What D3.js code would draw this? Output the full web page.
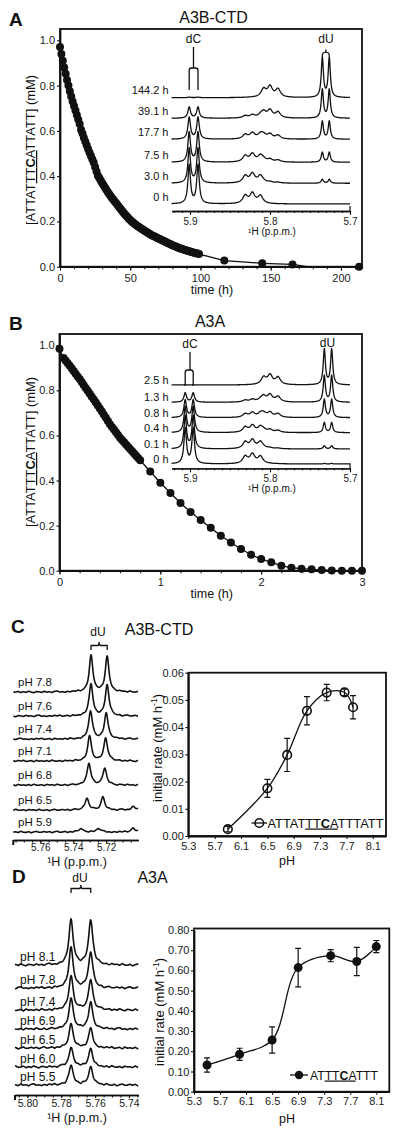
<!DOCTYPE html>
<html><head><meta charset="utf-8">
<script src="https://cdn.jsdelivr.net/npm/d3@7"></script>
<style>
html,body{margin:0;padding:0;background:#fff}
svg{display:block}
</style></head>
<body><svg id="c" width="400" height="1135"></svg>
<script>
// ================= DATA =================
// Panel A : A3B-CTD time course
const timeA = [0,1,2,3,4,5,6,7,8,9,10,11,12,13,14,15,16,17,18,19,20,21,22,23,24,25,26,27,28,29,
30,31,32,33,34,35,36,37,38,39,40,41,42,43,44,45,46,47,48,49,50,51,52,53,54,55,56,57,58,59,
60,61,62,63,64,65,66,67,68,69,70,71,72,73,74,75,76,77,78,79,80,81,82,83,84,85,86,87,88,89,
90,91,92,93,94,95,96,97,98,99,117,144,165.5,213];
const concA = [0.970,0.940,0.910,0.880,0.852,0.825,0.800,0.775,0.752,0.730,
0.710,0.690,0.670,0.650,0.630,0.605,0.588,0.570,0.553,0.537,
0.520,0.505,0.490,0.475,0.460,0.440,0.420,0.402,0.392,0.381,
0.370,0.360,0.350,0.340,0.330,0.321,0.312,0.304,0.296,0.288,
0.280,0.272,0.264,0.256,0.248,0.240,0.233,0.226,0.219,0.212,
0.206,0.200,0.195,0.190,0.185,0.180,0.176,0.172,0.168,0.164,
0.160,0.156,0.152,0.148,0.144,0.140,0.137,0.134,0.131,0.128,
0.125,0.122,0.119,0.116,0.113,0.110,0.107,0.104,0.101,0.098,
0.095,0.092,0.090,0.087,0.085,0.082,0.080,0.078,0.076,0.074,
0.072,0.070,0.068,0.066,0.064,0.063,0.061,0.059,0.058,0.056,
0.027,0.015,0.010,0.000];
const fitEndA = [176, 0];          // where the fitted line meets zero
const timeTicksA = [0,50,100,150,200];
const concTicks = [0,0.2,0.4,0.6,0.8,1.0];

// Panel B : A3A time course
const timeB = [0,0.04,0.06,0.08,0.10,0.12,0.14,0.16,0.18,0.20,0.22,0.24,0.26,0.28,0.30,0.32,0.34,0.36,0.38,0.40,
0.42,0.44,0.46,0.48,0.50,0.52,0.54,0.56,0.58,0.60,0.62,0.64,0.66,0.68,0.70,0.72,0.74,0.76,0.78,0.80,
0.9,1.0,1.1,1.2,1.3,1.4,1.5,1.6,1.7,1.8,1.9,2.0,2.1,2.2,2.3,2.4,2.5,2.6,2.7,2.8,2.9,3.0];
const concB = [0.985,0.944,0.933,0.921,0.910,0.898,0.886,0.874,0.862,0.850,0.837,0.824,0.811,0.798,0.785,0.772,0.759,0.746,0.733,0.720,
0.706,0.692,0.678,0.664,0.650,0.638,0.626,0.614,0.602,0.590,0.580,0.570,0.560,0.550,0.540,0.530,0.520,0.510,0.500,0.490,
0.440,0.390,0.345,0.300,0.260,0.225,0.190,0.155,0.125,0.096,0.071,0.052,0.037,0.022,0.013,0.009,0.006,0.003,0.001,0,0,0];
const timeTicksB = [0,1,2,3];

// NMR insets (A, B)
const specLabelsA = ["144.2 h","39.1 h","17.7 h","7.5 h","3.0 h","0 h"];
const substrateFracA = [0.015,0.28,0.55,0.75,0.87,0.97];
const productFracA  = [1.00,0.72,0.45,0.25,0.10,0.00];
const specLabelsB = ["2.5 h","1.3 h","0.8 h","0.4 h","0.1 h","0 h"];
const substrateFracB = [0.006,0.26,0.49,0.72,0.91,0.985];
const productFracB  = [0.99,0.74,0.51,0.28,0.09,0.015];
const dCppmA = [5.901,5.890], dUppmA = [5.7346,5.7259];
const dCppmB = [5.906,5.896], dUppmB = [5.7321,5.7229];
const tripletSubPpm  = [5.831,5.822,5.812];
const tripletProdPpm = [5.808,5.800,5.790];
const tripletRel = [0.20,0.26,0.20];
const ppmTicksAB = [5.9,5.8,5.7];

// Panel C spectra (dU doublet vs pH)
const phLabelsC = ["pH 7.8","pH 7.6","pH 7.4","pH 7.1","pH 6.8","pH 6.5","pH 5.9"];
const dUppmC = [[5.7292,5.7194],[5.7292,5.7194],[5.7295,5.7200],[5.7301,5.7203],[5.7305,5.7209],[5.7317,5.7220],[5.7354,5.7247]];
const dUhtC  = [[1.00,0.97],[0.89,0.86],[0.78,0.72],[0.69,0.64],[0.61,0.47],[0.33,0.36],[0.11,0.11]];
const extraHtC = [0,0,0,0,0,0.10,0.11];
const extraPpmC = 5.7035;
const ppmTicksC = [5.76,5.74,5.72];
// Panel C rate vs pH
const pHC   = [5.9,6.5,6.8,7.1,7.4,7.67,7.8];
const rateC = [0.0025,0.0175,0.0298,0.046,0.0527,0.0528,0.0473];
const errC  = [0.001,0.0033,0.0061,0.0052,0.003,0.0012,0.0043];
const pHTicks = [5.3,5.7,6.1,6.5,6.9,7.3,7.7,8.1];
const rateTicksC = [0,0.01,0.02,0.03,0.04,0.05,0.06];

// Panel D spectra
const phLabelsD = ["pH 8.1","pH 7.8","pH 7.4","pH 6.9","pH 6.5","pH 6.0","pH 5.5"];
const dUppmD = [5.7742,5.7626];
const dUhtD  = [[1.00,1.00],[0.89,0.80],[0.76,0.67],[0.67,0.58],[0.53,0.42],[0.44,0.40],[0.44,0.40]];
const ppmTicksD = [5.80,5.78,5.76,5.74];
// Panel D rate vs pH
const pHD   = [5.5,6.0,6.5,6.9,7.4,7.8,8.1];
const rateD = [0.132,0.185,0.256,0.614,0.673,0.644,0.718];
const errD  = [0.035,0.03,0.065,0.095,0.03,0.07,0.03];
const rateTicksD = [0,0.1,0.2,0.3,0.4,0.5,0.6,0.7,0.8];

// baseline noise of the pH-series spectra (hand-typed)
const noise = [0.3,-0.5,0.8,-0.2,-0.9,0.4,0.1,-0.6,0.7,-0.3,0.5,-0.8,0.2,0.9,-0.4,-0.1,0.6,-0.7,0.3,-0.2,
0.8,-0.5,-0.9,0.4,0.0,0.7,-0.3,0.5,-0.6,0.2,-0.8,0.6,0.1,-0.4,0.9,-0.7,0.3,-0.1,0.5,-0.5,
0.7,-0.9,0.2,0.4,-0.3,0.8,-0.6,0.1,-0.2,0.6,-0.8,0.3,0.5,-0.4,0.9,-0.1,-0.7,0.4,0.2,-0.5];

// ================= DRAWING =================
const FONT = '"Liberation Sans", Arial, Helvetica, sans-serif';
const INK = "#111";
const svg = d3.select("#c");

function txt(x,y,s,fs,opt={}){
  const t = svg.append("text").attr("x",x).attr("y",y).text(s)
    .attr("font-family",FONT).attr("font-size",fs).attr("fill","#111");
  if(opt.anchor) t.attr("text-anchor",opt.anchor);
  if(opt.bold) t.attr("font-weight","bold");
  return t;
}
function frame(x0,y0,x1,y1){
  svg.append("rect").attr("x",x0).attr("y",y0).attr("width",x1-x0).attr("height",y1-y0)
    .attr("fill","none").attr("stroke",INK).attr("stroke-width",1.8);
}
function styleAxis(sel,fs,dw){
  sel.select(".domain").attr("stroke",INK).attr("stroke-width",dw||1.8);
  sel.selectAll(".tick line").attr("stroke",INK).attr("stroke-width",1.1);
  sel.selectAll("text").attr("font-size",fs).attr("font-family",FONT).attr("fill","#1a1a1a");
}
function seqText(x,y,parts,fs,rot,len){
  const t = svg.append("text").attr("font-family",FONT).attr("font-size",fs).attr("fill","#111");
  if(rot) t.attr("transform",`translate(${x},${y}) rotate(-90)`).attr("text-anchor","middle");
  else t.attr("x",x).attr("y",y);
  parts.forEach(p=>{
    const s=t.append("tspan").text(p[0]);
    if(p[1]) s.attr("text-decoration","underline");
    if(p[2]) s.attr("font-weight","bold");
  });
  if(len) t.attr("textLength",len).attr("lengthAdjust","spacingAndGlyphs");
  return t;
}
function rateLabel(x,cy){
  const t = svg.append("text").attr("transform",`translate(${x},${cy}) rotate(-90)`)
    .attr("text-anchor","middle").attr("font-family",FONT).attr("font-size",13).attr("fill","#111");
  t.append("tspan").text("initial rate (mM h");
  t.append("tspan").attr("dy",-5).attr("font-size",8.5).text("-1");
  t.append("tspan").attr("dy",5).text(")");
}

// ---- time-course panels ----
function timeCourse(opt){
  const x = d3.scaleLinear().domain(opt.xd).range([opt.x0,opt.x1]);
  const y = d3.scaleLinear().domain([0,1.05]).range([opt.y1,opt.y0]);
  svg.append("g").attr("transform",`translate(0,${opt.y1})`)
    .call(d3.axisBottom(x).tickValues(opt.minor).tickSize(2.5).tickFormat("").tickSizeOuter(0))
    .call(s=>styleAxis(s,10));
  svg.append("g").attr("transform",`translate(0,${opt.y1})`)
    .call(d3.axisBottom(x).tickValues(opt.xticks).tickSize(4).tickPadding(3.5).tickFormat(opt.fmt).tickSizeOuter(0))
    .call(s=>styleAxis(s,11));
  svg.append("g").attr("transform",`translate(${opt.x0},0)`)
    .call(d3.axisLeft(y).tickValues(concTicks).tickSize(3).tickPadding(2).tickFormat(d3.format(".1f")).tickSizeOuter(0))
    .call(s=>styleAxis(s,11));
  frame(opt.x0,opt.y0,opt.x1,opt.y1);
  const pts = opt.t.map((t,i)=>[t,opt.c[i]]);
  svg.append("path").datum(opt.linePts).attr("fill","none").attr("stroke",INK).attr("stroke-width",1.3)
    .attr("d",d3.line().x(d=>x(d[0])).y(d=>y(d[1])));
  svg.append("g").selectAll("circle").data(pts).join("circle")
    .attr("cx",d=>x(d[0])).attr("cy",d=>y(d[1])).attr("r",4).attr("fill",INK);
  txt((opt.x0+opt.x1)/2+1, opt.y1+27, "time (h)", 12.5, {anchor:"middle"});
  return {x,y};
}

// ---- generic spectrum trace ----
function trace(xs, xL, xR, baseY, peaks, scalePx, nAmp, nOff, sw){
  const pts=[];
  for(let px=xL; px<=xR+0.01; px+=0.4){
    const p = xs.invert(px);
    let h=0;
    peaks.forEach(k=>{const d=(p-k.ppm)/k.w; h+=k.a/(1+d*d);});
    let n=0;
    if(nAmp){
      const f=px/2.6+nOff, i=Math.floor(f), r=f-i, N=noise.length;
      const a=noise[((i%N)+N)%N], b=noise[(((i+1)%N)+N)%N];
      n=(a*(1-r)+b*r)*nAmp;
    }
    pts.push([px, baseY - h*scalePx + n]);
  }
  svg.append("path").attr("d",d3.line()(pts)).attr("fill","none")
    .attr("stroke",INK).attr("stroke-width",sw).attr("stroke-linejoin","round");
}

function inset(opt){
  const xs = d3.scaleLinear().domain([5.923,5.70]).range([171.6,350]);
  const minor = d3.range(5.70,5.9231,0.01);
  svg.append("g").attr("transform",`translate(0,${opt.axisY})`)
    .call(d3.axisBottom(xs).tickValues(minor).tickSize(2).tickFormat("").tickSizeOuter(0))
    .call(s=>styleAxis(s,9,1.3));
  svg.append("g").attr("transform",`translate(0,${opt.axisY})`)
    .call(d3.axisBottom(xs).tickValues(ppmTicksAB).tickSize(4).tickPadding(2.5).tickFormat(d3.format(".1f")).tickSizeOuter(0))
    .call(s=>styleAxis(s,10,1.3));
  svg.append("line").attr("x1",xs(5.7)).attr("x2",xs(5.7)).attr("y1",opt.axisY-5).attr("y2",opt.axisY)
    .attr("stroke",INK).attr("stroke-width",1.2);
  txt(272, opt.axisY+23.5, "¹H (p.p.m.)", 10, {anchor:"middle"});
  opt.labels.forEach((lab,i)=>{
    const s=opt.sub[i], p=opt.prod[i];
    const peaks=[];
    opt.dC.forEach(v=>peaks.push({ppm:v,a:s,w:0.0019}));
    opt.dU.forEach(v=>peaks.push({ppm:v,a:p,w:0.0016}));
    tripletSubPpm.forEach((v,j)=>peaks.push({ppm:v,a:s*tripletRel[j],w:0.0037}));
    tripletProdPpm.forEach((v,j)=>peaks.push({ppm:v,a:p*tripletRel[j],w:0.0037}));
    trace(xs,171.6,350,opt.base[i],peaks,opt.scale,0,0,1.3);
    txt(168.5, opt.base[i]+opt.labOff, lab, 11, {anchor:"end"});
  });
  return xs;
}

// ================= PANEL A =================
txt(9,26,"A",19,{bold:true});
txt(213.5,23,"A3B-CTD",16,{anchor:"middle"});
const linePtsA = timeA.slice(0,timeA.length-1).map((t,i)=>[t,concA[i]]).concat([fitEndA]);
timeCourse({xd:[0,215],x0:60,x1:362,y0:29,y1:266.7,t:timeA,c:concA,linePts:linePtsA,
  xticks:timeTicksA,minor:d3.range(0,215,10),fmt:d3.format("d")});
seqText(35,150,[["[ATTAT"],["TT",1],["C",1,1],["A",1],["TTATT] (mM)"]],12.5,true,150);
const xsA = inset({axisY:211,labels:specLabelsA,sub:substrateFracA,prod:productFracA,
  dC:dCppmA,dU:dUppmA,base:[97.7,118.3,139.3,162.3,183.3,204],scale:40,labOff:-3.5});
txt(193.5,43,"dC",12,{anchor:"middle"});
svg.append("path").attr("d",`M193.5,47 V68 M${xsA(dCppmA[0])},90 V70.5 Q${xsA(dCppmA[0])},68 ${xsA(dCppmA[0])+2.5},68 H${xsA(dCppmA[1])-2.5} Q${xsA(dCppmA[1])},68 ${xsA(dCppmA[1])},70.5 V90`)
  .attr("fill","none").attr("stroke",INK).attr("stroke-width",1.3);
txt(326,43,"dU",12,{anchor:"middle"});
{const a=xsA(dUppmA[0]),b=xsA(dUppmA[1]),m=(a+b)/2;
svg.append("path").attr("d",`M${a},56 Q${a},52.5 ${a+2},52.5 H${m-1} Q${m},52.5 ${m},49.5 Q${m},52.5 ${m+1},52.5 H${b-2} Q${b},52.5 ${b},56`)
  .attr("fill","none").attr("stroke",INK).attr("stroke-width",1.2);}

// ================= PANEL B =================
txt(9,330,"B",19,{bold:true});
txt(210,327,"A3A",16,{anchor:"middle"});
const linePtsB = timeB.map((t,i)=>[t,concB[i]]);
timeCourse({xd:[0,3],x0:59.5,x1:362,y0:334,y1:570.7,t:timeB,c:concB,linePts:linePtsB,
  xticks:timeTicksB,minor:d3.range(0,3.01,0.2),fmt:d3.format("d")});
seqText(35,452,[["[ATTAT"],["TT",1],["C",1,1],["A",1],["TTATT] (mM)"]],12.5,true,150);
const xsB = inset({axisY:468.3,labels:specLabelsB,sub:substrateFracB,prod:productFracB,
  dC:dCppmB,dU:dUppmB,base:[385,402.3,417.7,432.7,449,464],scale:36,labOff:-1});
txt(190,348,"dC",12,{anchor:"middle"});
svg.append("path").attr("d",`M190,352 V370 M${xsB(dCppmB[0])},386 V372.5 Q${xsB(dCppmB[0])},370 ${xsB(dCppmB[0])+2.5},370 H${xsB(dCppmB[1])-2.5} Q${xsB(dCppmB[1])},370 ${xsB(dCppmB[1])},372.5 V386`)
  .attr("fill","none").attr("stroke",INK).attr("stroke-width",1.3);
txt(327.5,347,"dU",12,{anchor:"middle"});

// ================= PANEL C =================
txt(11,633,"C",19,{bold:true});
txt(159,635,"A3B-CTD",16,{anchor:"middle"});
{
  const xs = d3.scaleLinear().domain([5.7764,5.7005]).range([13.3,138.3]);
  const axisY=840;
  svg.append("g").attr("transform",`translate(0,${axisY})`)
    .call(d3.axisBottom(xs).tickValues(d3.range(5.705,5.7765,0.005)).tickSize(2.5).tickFormat("").tickSizeOuter(0))
    .call(s=>styleAxis(s,9,1.6));
  svg.append("g").attr("transform",`translate(0,${axisY})`)
    .call(d3.axisBottom(xs).tickValues(ppmTicksC).tickSize(3).tickPadding(0.5).tickFormat(d3.format(".2f")).tickSizeOuter(0))
    .call(s=>styleAxis(s,10,1.6));
  svg.append("line").attr("x1",13.3).attr("x2",13.3).attr("y1",axisY).attr("y2",axisY+5).attr("stroke",INK).attr("stroke-width",2);
  txt(77,866,"¹H (p.p.m.)",12.5,{anchor:"middle"});
  const base=[692,716,739,761,785,810,832];
  phLabelsC.forEach((lab,i)=>{
    const peaks=[{ppm:dUppmC[i][0],a:dUhtC[i][0],w:0.00135},{ppm:dUppmC[i][1],a:dUhtC[i][1],w:0.00135}];
    if(extraHtC[i]) peaks.push({ppm:extraPpmC,a:extraHtC[i],w:0.0015});
    trace(xs,13.3,138.3,base[i],peaks,36,0.9,i*7,1.6);
    txt(18,base[i]-6.5,lab,11.5);
  });
  txt(98,636,"dU",12,{anchor:"middle"});
  const a=xs(dUppmC[0][0]), b=xs(dUppmC[0][1]), m=(a+b)/2;
  svg.append("path").attr("d",`M${a},650 V645.5 H${m-1.5} Q${m},645.5 ${m},642 Q${m},645.5 ${m+1.5},645.5 H${b} V650`)
    .attr("fill","none").attr("stroke",INK).attr("stroke-width",1.3);

  const x = d3.scaleLinear().domain([5.3,8.3]).range([188.3,386]);
  const y = d3.scaleLinear().domain([0,0.06]).range([836,672.7]);
  svg.append("g").attr("transform",`translate(0,836)`)
    .call(d3.axisBottom(x).tickValues(pHTicks).tickSize(3).tickPadding(3).tickFormat(d3.format(".1f")).tickSizeOuter(0))
    .call(s=>styleAxis(s,11));
  svg.append("g").attr("transform",`translate(188.3,0)`)
    .call(d3.axisLeft(y).tickValues(rateTicksC).tickSize(3).tickPadding(1.5).tickFormat(d3.format(".2f")).tickSizeOuter(0))
    .call(s=>styleAxis(s,11));
  frame(188.3,672.7,386,836);
  txt(287,865,"pH",12.5,{anchor:"middle"});
  rateLabel(162,748);
  const pts=pHC.map((p,i)=>({p,r:rateC[i],e:errC[i]}));
  svg.append("path").datum(pts).attr("fill","none").attr("stroke",INK).attr("stroke-width",1.3)
    .attr("d",d3.line().x(d=>x(d.p)).y(d=>y(d.r)).curve(d3.curveCatmullRom.alpha(0.5)));
  const eb=svg.append("g").attr("stroke",INK).attr("stroke-width",1.2).attr("fill","none");
  pts.forEach(d=>{
    eb.append("path").attr("d",`M${x(d.p)},${y(d.r-d.e)} V${y(d.r+d.e)} M${x(d.p)-3},${y(d.r-d.e)} h6 M${x(d.p)-3},${y(d.r+d.e)} h6`);
  });
  svg.append("g").selectAll("circle").data(pts).join("circle")
    .attr("cx",d=>x(d.p)).attr("cy",d=>y(d.r)).attr("r",4.3)
    .attr("fill","none").attr("stroke",INK).attr("stroke-width",1.6);
  svg.append("line").attr("x1",251.5).attr("x2",267).attr("y1",823).attr("y2",823).attr("stroke",INK).attr("stroke-width",1.3);
  svg.append("circle").attr("cx",259.3).attr("cy",823).attr("r",4.3).attr("fill","none").attr("stroke",INK).attr("stroke-width",1.6);
  seqText(267.5,827.5,[["ATTAT"],["TT",1],["C",1,1],["A",1],["TTTATT"]],12.3,false,116);
}

// ================= PANEL D =================
txt(12,883,"D",19,{bold:true});
txt(152.5,883,"A3A",16,{anchor:"middle"});
{
  const xs = d3.scaleLinear().domain([5.8073,5.7345]).range([15,138.3]);
  const axisY=1095;
  svg.append("g").attr("transform",`translate(0,${axisY})`)
    .call(d3.axisBottom(xs).tickValues(d3.range(5.735,5.8074,0.005)).tickSize(2.5).tickFormat("").tickSizeOuter(0))
    .call(s=>styleAxis(s,9,1.6));
  svg.append("g").attr("transform",`translate(0,${axisY})`)
    .call(d3.axisBottom(xs).tickValues(ppmTicksD).tickSize(3).tickPadding(1.5).tickFormat(d3.format(".2f")).tickSizeOuter(0))
    .call(s=>styleAxis(s,10.5,1.6));
  svg.append("line").attr("x1",15).attr("x2",15).attr("y1",axisY).attr("y2",axisY+5).attr("stroke",INK).attr("stroke-width",2);
  txt(77,1122,"¹H (p.p.m.)",12.5,{anchor:"middle"});
  const base=[965,988,1010,1029,1048,1067,1085];
  phLabelsD.forEach((lab,i)=>{
    const peaks=[{ppm:dUppmD[0],a:dUhtD[i][0],w:0.0015},{ppm:dUppmD[1],a:dUhtD[i][1],w:0.0015}];
    trace(xs,15,138.3,base[i],peaks,45,1.2,i*11+3,1.6);
    txt(20,base[i]-4,lab,12);
  });
  txt(80,882,"dU",12,{anchor:"middle"});
  const a=xs(dUppmD[0]), b=xs(dUppmD[1]), m=(a+b)/2;
  svg.append("path").attr("d",`M${a},893 V888.5 H${m-1.5} Q${m},888.5 ${m},885 Q${m},888.5 ${m+1.5},888.5 H${b} V893`)
    .attr("fill","none").attr("stroke",INK).attr("stroke-width",1.3);

  const x = d3.scaleLinear().domain([5.3,8.3]).range([194,389.3]);
  const y = d3.scaleLinear().domain([0,0.8]).range([1091.7,930]);
  svg.append("g").attr("transform",`translate(0,1091.7)`)
    .call(d3.axisBottom(x).tickValues(pHTicks).tickSize(3).tickPadding(3).tickFormat(d3.format(".1f")).tickSizeOuter(0))
    .call(s=>styleAxis(s,11));
  svg.append("g").attr("transform",`translate(194,0)`)
    .call(d3.axisLeft(y).tickValues(rateTicksD).tickSize(3).tickPadding(1.5).tickFormat(d3.format(".2f")).tickSizeOuter(0))
    .call(s=>styleAxis(s,11));
  frame(194,928.5,389.3,1091.7);
  txt(287,1123,"pH",12.5,{anchor:"middle"});
  rateLabel(164,1012);
  const pts=pHD.map((p,i)=>({p,r:rateD[i],e:errD[i]}));
  svg.append("path").datum(pts).attr("fill","none").attr("stroke",INK).attr("stroke-width",1.3)
    .attr("d",d3.line().x(d=>x(d.p)).y(d=>y(d.r)).curve(d3.curveCatmullRom.alpha(0.5)));
  const eb=svg.append("g").attr("stroke",INK).attr("stroke-width",1.2).attr("fill","none");
  pts.forEach(d=>{
    eb.append("path").attr("d",`M${x(d.p)},${y(d.r-d.e)} V${y(d.r+d.e)} M${x(d.p)-3},${y(d.r-d.e)} h6 M${x(d.p)-3},${y(d.r+d.e)} h6`);
  });
  svg.append("g").selectAll("circle").data(pts).join("circle")
    .attr("cx",d=>x(d.p)).attr("cy",d=>y(d.r)).attr("r",4.5).attr("fill",INK);
  svg.append("line").attr("x1",290).attr("x2",308).attr("y1",1075).attr("y2",1075).attr("stroke",INK).attr("stroke-width",1.3);
  svg.append("circle").attr("cx",299).attr("cy",1075).attr("r",4.2).attr("fill",INK);
  seqText(310,1079.5,[["AT"],["TT",1],["C",1,1],["A",1],["TTT"]],12,false,68);
}
</script></body></html>
